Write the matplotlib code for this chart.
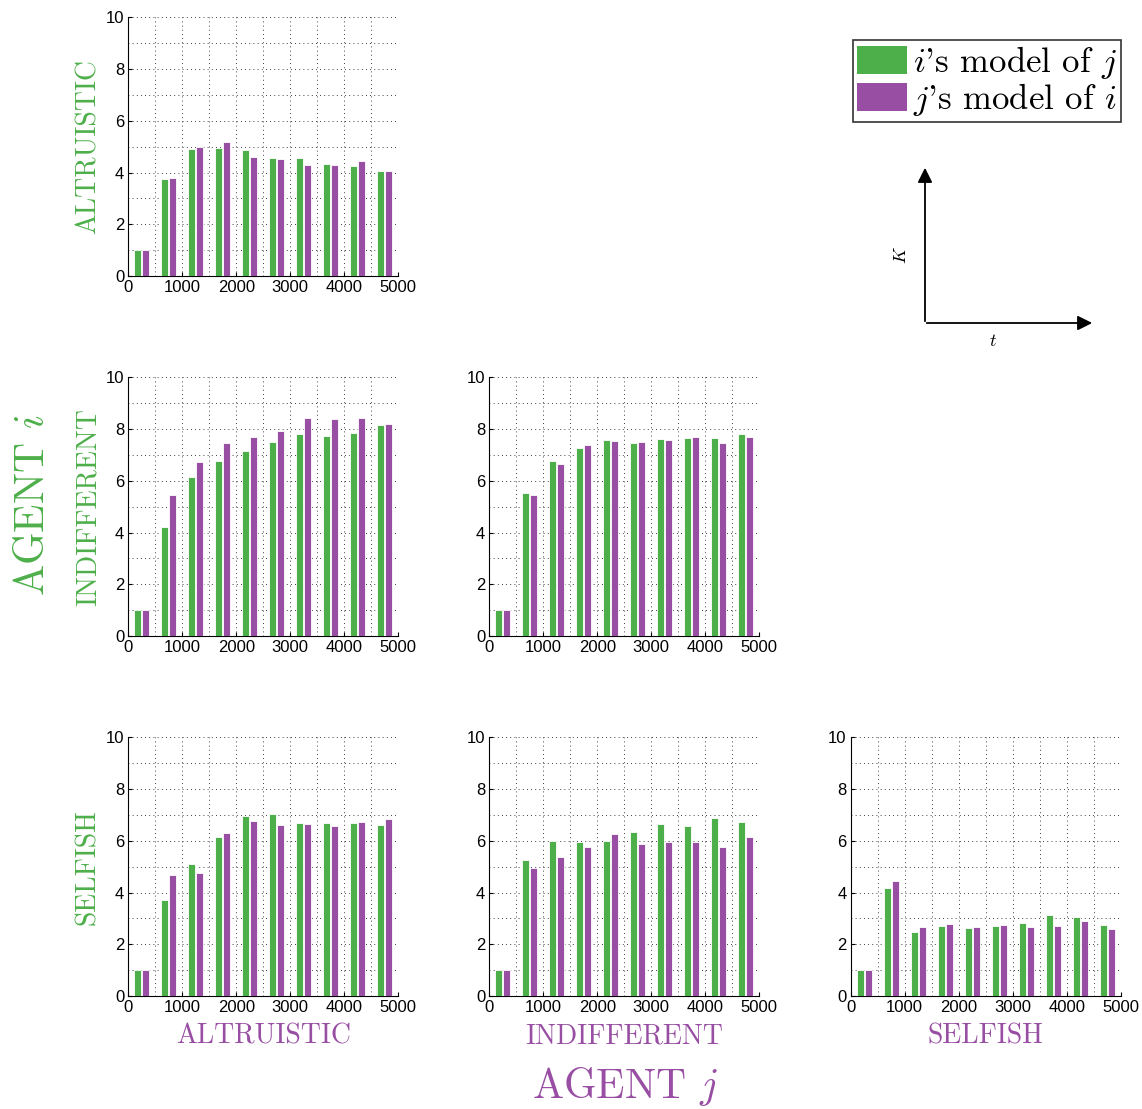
import matplotlib
matplotlib.use('Agg')
import matplotlib.pyplot as plt
from matplotlib.patches import Patch
from matplotlib.ticker import MultipleLocator
import numpy as np

plt.rcParams['font.family'] = ['Liberation Sans', 'DejaVu Sans']
plt.rcParams['mathtext.fontset'] = 'cm'

green = '#4daf4a'
purple = '#984ea3'

# time bins (centre of each 500-step window)
t = np.array([250, 750, 1250, 1750, 2250, 2750, 3250, 3750, 4250, 4750])

types = ['ALTRUISTIC', 'INDIFFERENT', 'SELFISH']

# rows = agent i type, cols = agent j type
# i's model of j
ij_alt_alt = [1.0, 3.75, 4.92, 4.96, 4.88, 4.57, 4.57, 4.34, 4.27, 4.06]
ij_ind_alt = [1.0, 4.21, 6.15, 6.77, 7.16, 7.50, 7.81, 7.73, 7.85, 8.15]
ij_ind_ind = [1.0, 5.53, 6.77, 7.27, 7.58, 7.46, 7.62, 7.65, 7.65, 7.81]
ij_sel_alt = [1.0, 3.71, 5.10, 6.15, 6.96, 7.04, 6.69, 6.69, 6.69, 6.61]
ij_sel_ind = [1.0, 5.26, 5.99, 5.95, 5.99, 6.34, 6.65, 6.57, 6.88, 6.73]
ij_sel_sel = [1.0, 4.19, 2.47, 2.71, 2.63, 2.71, 2.82, 3.13, 3.05, 2.74]

# j's model of i
ji_alt_alt = [1.0, 3.79, 5.00, 5.18, 4.61, 4.52, 4.30, 4.30, 4.43, 4.06]
ji_ind_alt = [1.0, 5.45, 6.73, 7.46, 7.69, 7.93, 8.43, 8.39, 8.43, 8.20]
ji_ind_ind = [1.0, 5.45, 6.65, 7.38, 7.54, 7.50, 7.58, 7.69, 7.46, 7.69]
ji_sel_alt = [1.0, 4.68, 4.76, 6.30, 6.77, 6.61, 6.65, 6.57, 6.73, 6.86]
ji_sel_ind = [1.0, 4.96, 5.37, 5.77, 6.26, 5.89, 5.97, 5.97, 5.76, 6.15]
ji_sel_sel = [1.0, 4.45, 2.67, 2.78, 2.67, 2.74, 2.67, 2.71, 2.90, 2.59]

panels = {
    (0, 0): (ij_alt_alt, ji_alt_alt),
    (1, 0): (ij_ind_alt, ji_ind_alt),
    (1, 1): (ij_ind_ind, ji_ind_ind),
    (2, 0): (ij_sel_alt, ji_sel_alt),
    (2, 1): (ij_sel_ind, ji_sel_ind),
    (2, 2): (ij_sel_sel, ji_sel_sel),
}

W, H = 1142, 1109
fig = plt.figure(figsize=(W/100, H/100), dpi=100)

lefts = [128.3, 489.3, 850.7]
tops = [17.3, 377.3, 737.3]
aw, ah = 270.0, 258.7

bw = 125
off = 75
lab = dict(fontfamily='cmr10', fontsize=20)

for (r, c), (a, b) in panels.items():
    ax = fig.add_axes([lefts[c]/W, 1 - (tops[r]+ah)/H, aw/W, ah/H])
    ax.bar(t - off, a, width=bw, color=green, edgecolor='white', linewidth=0.6, zorder=3)
    ax.bar(t + off, b, width=bw, color=purple, edgecolor='white', linewidth=0.6, zorder=3)
    ax.set_xlim(0, 5000)
    ax.set_ylim(0, 10)
    ax.xaxis.set_major_locator(MultipleLocator(1000))
    ax.xaxis.set_minor_locator(MultipleLocator(500))
    ax.yaxis.set_major_locator(MultipleLocator(2))
    ax.yaxis.set_minor_locator(MultipleLocator(1))
    ax.grid(True, which='both', linestyle=(0, (1, 4)), color='black', linewidth=0.6, zorder=0)
    ax.spines['top'].set_visible(False)
    ax.spines['right'].set_visible(False)
    ax.tick_params(which='major', direction='in', length=3, labelsize=12, pad=3)
    ax.tick_params(which='minor', length=0)
    if c == 0:
        ax.set_ylabel(types[r], color=green, labelpad=3, **lab)
    if r == 2:
        ax.set_xlabel(types[c], color=purple, labelpad=6, **lab)

fig.text(33/W, 1 - 505/H, r'AGENT $i$', rotation=90, color=green, ha='center', va='center',
         fontfamily='cmr10', fontsize=30)
fig.text(625/W, 1 - 1086/H, r'AGENT $j$', color=purple, ha='center', va='center',
         fontfamily='cmr10', fontsize=30)

handles = [Patch(facecolor=green, edgecolor='none'), Patch(facecolor=purple, edgecolor='none')]
leg = fig.legend(handles, [r"$i$'s model of $j$", r"$j$'s model of $i$"],
                 loc='upper right', bbox_to_anchor=(1121/W, 1 - 40/H),
                 prop={'family': 'cmr10', 'size': 25}, frameon=True, fancybox=False,
                 edgecolor='black', handlelength=1.45, handleheight=0.85, handletextpad=0.15,
                 borderpad=0.12, labelspacing=0.0, borderaxespad=0)
leg.get_frame().set_linewidth(1.2)

# little K-vs-t key
kax = fig.add_axes([0, 0, 1, 1])
kax.set_xlim(0, W)
kax.set_ylim(H, 0)
kax.axis('off')
kax.annotate('', xy=(925, 165), xytext=(925, 324),
             arrowprops=dict(arrowstyle='-|>', color='black', lw=1.3, mutation_scale=22))
kax.annotate('', xy=(1095, 323), xytext=(924, 323),
             arrowprops=dict(arrowstyle='-|>', color='black', lw=1.3, mutation_scale=22))
kax.text(902, 255, r'$K$', rotation=90, ha='center', va='center', fontsize=13)
kax.text(993, 342, r'$t$', ha='center', va='center', fontsize=13)

fig.savefig('out.png', dpi=100)
